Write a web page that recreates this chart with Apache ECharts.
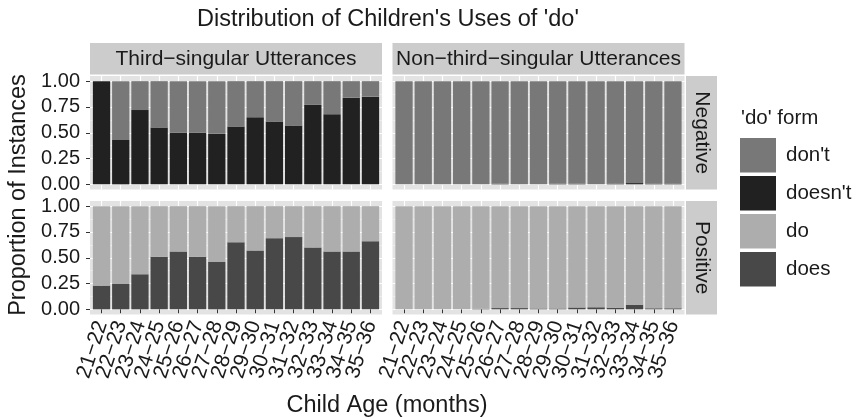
<!DOCTYPE html>
<html><head><meta charset="utf-8">
<script src="https://cdn.jsdelivr.net/npm/echarts@6/dist/echarts.min.js"></script>
<style>html,body{margin:0;padding:0;background:#fff}#c{width:856px;height:418px}</style>
</head><body><div id="c"></div>
<script>
// ---- data ----
const ageCategories = ['21−22','22−23','23−24','24−25','25−26','26−27','27−28','28−29','29−30','30−31','31−32','32−33','33−34','34−35','35−36'];
const negThirdDoesnt = [1.00,0.43,0.72,0.55,0.50,0.50,0.49,0.56,0.65,0.61,0.57,0.77,0.68,0.84,0.85];
const negThirdDont   = [0.00,0.57,0.28,0.45,0.50,0.50,0.51,0.44,0.35,0.39,0.43,0.23,0.32,0.16,0.15];
const posThirdDoes   = [0.23,0.25,0.34,0.51,0.56,0.51,0.46,0.65,0.57,0.69,0.70,0.60,0.56,0.56,0.66];
const posThirdDo     = [0.77,0.75,0.66,0.49,0.44,0.49,0.54,0.35,0.43,0.31,0.30,0.40,0.44,0.44,0.34];
const negOtherDoesnt = [0,0,0,0,0,0.005,0,0,0.005,0.005,0,0.006,0.012,0.006,0.006];
const negOtherDont   = [1,1,1,1,1,0.995,1,1,0.995,0.995,1,0.994,0.988,0.994,0.994];
const posOtherDoes   = [0,0,0,0,0.005,0.012,0.012,0.008,0.008,0.018,0.02,0.016,0.045,0.01,0.01];
const posOtherDo     = [1,1,1,1,0.995,0.988,0.988,0.992,0.992,0.982,0.98,0.984,0.955,0.99,0.99];
const yTicks = [0, 0.25, 0.5, 0.75, 1];
const yTickLabels = ['0.00','0.25','0.50','0.75','1.00'];
const yMinorTicks = [0.125, 0.375, 0.625, 0.875];
const facetCols = ['Third−singular Utterances', 'Non−third−singular Utterances'];
const facetRows = ['Negative', 'Positive'];
const formNames = ["don't", "doesn't", "do", "does"];
const formColors = ['#787878', '#212121', '#ADADAD', '#484848'];
const chartTitle = "Distribution of Children's Uses of 'do'";
const xTitle = 'Child Age (months)';
const yTitle = 'Proportion of Instances';
const legendTitle = "'do' form";

// ---- layout ----
const FONT = '"Liberation Sans", Arial, Helvetica, sans-serif';
const TXT = '#1a1a1a';
const PANEL_BG = '#E3E3E3';
const STRIP_BG = '#CCCCCC';
const colLeft = [90, 392.5];
const rowTop = [76, 201];
const PW = 292, PH = 113.5;
const N = ageCategories.length;
const unit = PW / (N + 0.2);          // discrete scale range [0.4, N + 0.6]
const xPos = ageCategories.map((c, i) => i + 1);
const xPosOdd = xPos.filter(v => v % 2 === 1);
const xPosEven = xPos.filter(v => v % 2 === 0);

const panels = [
  {r:0, c:0, bottom:{name:formNames[1], data:negThirdDoesnt, color:formColors[1]}, top:{name:formNames[0], data:negThirdDont, color:formColors[0]}},
  {r:0, c:1, bottom:{name:formNames[1], data:negOtherDoesnt, color:formColors[1]}, top:{name:formNames[0], data:negOtherDont, color:formColors[0]}},
  {r:1, c:0, bottom:{name:formNames[3], data:posThirdDoes, color:formColors[3]}, top:{name:formNames[2], data:posThirdDo, color:formColors[2]}},
  {r:1, c:1, bottom:{name:formNames[3], data:posOtherDoes, color:formColors[3]}, top:{name:formNames[2], data:posOtherDo, color:formColors[2]}}
];

const xLabelStyle = {rotate: 72, margin: 7, fontSize: 21, color: TXT, fontFamily: FONT,
  showMinLabel: true, showMaxLabel: true, hideOverlap: false,
  formatter: v => ageCategories[Math.round(v) - 1]};

const grid = [], xAxis = [], yAxis = [], series = [];
panels.forEach((p, k) => {
  const gi = grid.length;
  grid.push({left: colLeft[p.c], top: rowTop[p.r], width: PW, height: PH, show: true, backgroundColor: PANEL_BG, borderWidth: 0});
  const showX = p.r === 1;
  xAxis.push({
    type: 'value', gridIndex: gi, min: 0.4, max: N + 0.6, position: 'bottom',
    axisLine: {show: false},
    axisTick: {show: showX, customValues: xPos, length: 4, lineStyle: {color: '#333', width: 1}},
    axisLabel: Object.assign({show: showX, customValues: xPosOdd}, xLabelStyle),
    splitLine: {show: true, lineStyle: {color: '#fff', width: 1.2}}
  });
  if (showX) {
    xAxis.push({
      type: 'value', gridIndex: gi, min: 0.4, max: N + 0.6, position: 'bottom',
      axisLine: {show: false},
      axisTick: {show: false, customValues: xPosEven},
      axisLabel: Object.assign({show: true, customValues: xPosEven}, xLabelStyle),
      splitLine: {show: false}
    });
  }
  const showY = p.c === 0;
  yAxis.push({
    type: 'value', gridIndex: gi, min: -0.05, max: 1.05,
    axisLine: {show: false},
    axisTick: {show: showY, customValues: yTicks, length: 4, lineStyle: {color: '#333', width: 1}},
    axisLabel: {show: showY, customValues: yTicks, showMinLabel: true, showMaxLabel: true, margin: 10, fontSize: 20, color: TXT, fontFamily: FONT,
      formatter: v => yTickLabels[yTicks.indexOf(Math.round(v * 100) / 100)]},
    splitLine: {show: true, lineStyle: {color: '#fff', width: 1.2}}
  });
  yAxis.push({
    type: 'value', gridIndex: gi, min: -0.05, max: 1.05,
    axisLine: {show: false},
    axisTick: {show: false, customValues: yMinorTicks},
    axisLabel: {show: false},
    splitLine: {show: true, lineStyle: {color: '#F4F4F4', width: 0.6}}
  });
  const di = grid.length;
  grid.push({left: colLeft[p.c] + 0.1 * unit, top: rowTop[p.r], width: N * unit, height: PH, show: false});
  xAxis.push({type: 'category', gridIndex: di, data: ageCategories, show: false, boundaryGap: true});
  const xi = xAxis.length - 1;
  const yi = yAxis.length;
  yAxis.push({type: 'value', gridIndex: di, min: -0.05, max: 1.05, show: false, splitLine: {show: false}});
  [p.bottom, p.top].forEach(s => {
    series.push({
      type: 'bar', name: s.name, xAxisIndex: xi, yAxisIndex: yi, stack: 'p' + k,
      barCategoryGap: '10%', itemStyle: {color: s.color}, data: s.data
    });
  });
});

const graphic = [];
facetCols.forEach((t, c) => {
  graphic.push({type: 'rect', shape: {x: colLeft[c], y: 43, width: PW, height: 31.5}, style: {fill: STRIP_BG}, silent: true});
  graphic.push({type: 'text', x: colLeft[c] + PW / 2, y: 59, style: {text: t, fill: TXT, font: '21px ' + FONT, align: 'center', verticalAlign: 'middle'}, silent: true});
});
facetRows.forEach((t, r) => {
  graphic.push({type: 'rect', shape: {x: 686, y: rowTop[r], width: 31, height: PH}, style: {fill: STRIP_BG}, silent: true});
  graphic.push({type: 'text', x: 701.5, y: rowTop[r] + PH / 2, rotation: -Math.PI / 2, style: {text: t, fill: TXT, font: '21px ' + FONT, align: 'center', verticalAlign: 'middle'}, silent: true});
});
graphic.push({type: 'text', x: 388, y: 20, style: {text: chartTitle, fill: TXT, font: '23.5px ' + FONT, align: 'center', verticalAlign: 'middle'}, silent: true});
graphic.push({type: 'text', x: 387, y: 406, style: {text: xTitle, fill: TXT, font: '23.5px ' + FONT, align: 'center', verticalAlign: 'middle'}, silent: true});
graphic.push({type: 'text', x: 19, y: 195, rotation: Math.PI / 2, style: {text: yTitle, fill: TXT, font: '23.5px ' + FONT, align: 'center', verticalAlign: 'middle'}, silent: true});
graphic.push({type: 'text', x: 741, y: 118, style: {text: legendTitle, fill: TXT, font: '20.5px ' + FONT, align: 'left', verticalAlign: 'middle'}, silent: true});

const chart = echarts.init(document.getElementById('c'));
chart.setOption({
  animation: false,
  backgroundColor: '#fff',
  grid, xAxis, yAxis, series, graphic,
  legend: {
    orient: 'vertical', left: 740, top: 138, padding: 0,
    itemWidth: 36, itemHeight: 34.5, itemGap: 3.5, icon: 'rect', selectedMode: false,
    data: formNames,
    textStyle: {fontSize: 20.5, color: TXT, fontFamily: FONT, padding: [0, 0, 0, 5]}
  }
});
</script>
</body></html>
